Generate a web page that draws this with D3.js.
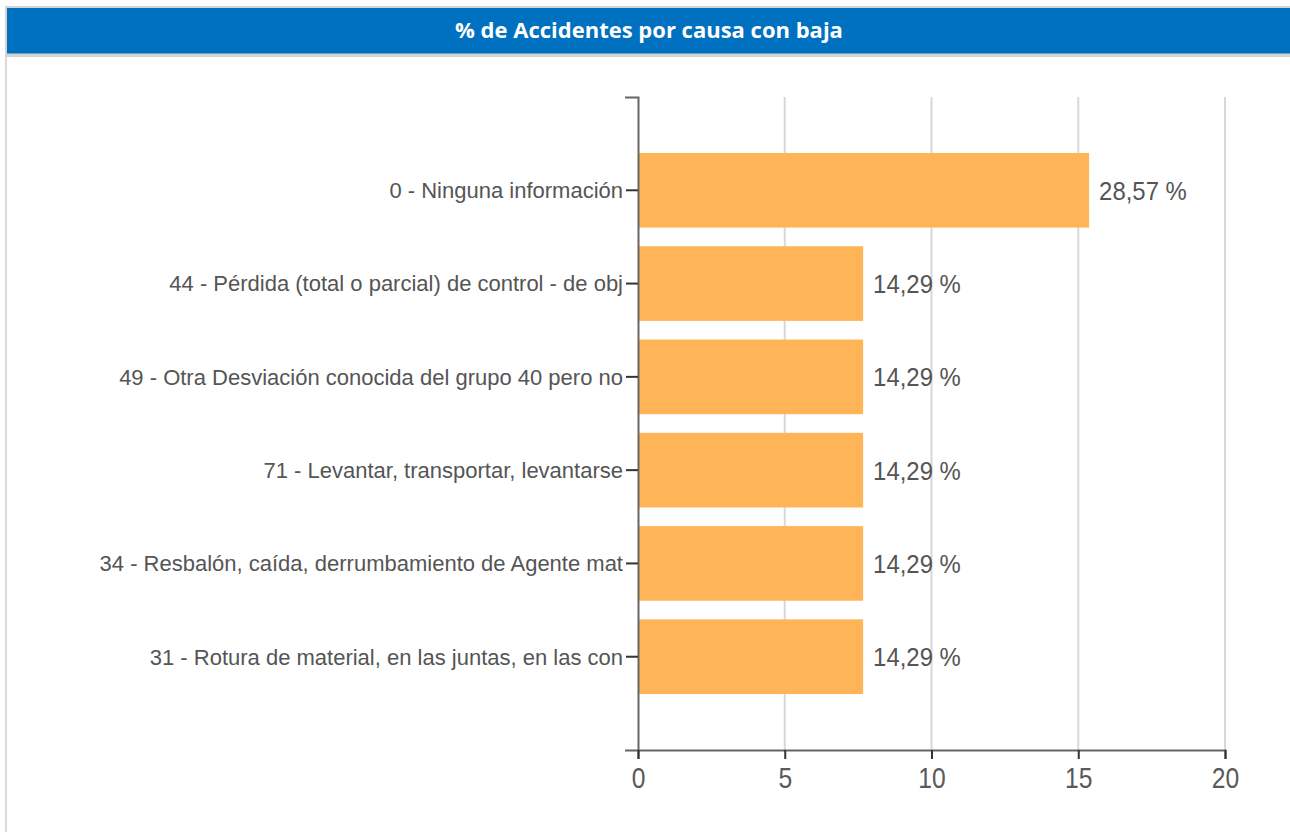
<!DOCTYPE html>
<html>
<head>
<meta charset="utf-8">
<script src="https://cdn.jsdelivr.net/npm/d3@7"></script>
<style>
  body { margin: 0; background: #fff; }
  svg { display: block; }
</style>
</head>
<body>
<div id="chart"></div>
<script>
const title = '% de Accidentes por causa con baja';
const categories = [
  '0 - Ninguna información',
  '44 - Pérdida (total o parcial) de control - de obj',
  '49 - Otra Desviación conocida del grupo 40 pero no',
  '71 - Levantar, transportar, levantarse',
  '34 - Resbalón, caída, derrumbamiento de Agente mat',
  '31 - Rotura de material, en las juntas, en las con'
];
const values = [15.37, 7.67, 7.67, 7.67, 7.67, 7.67];
const valueLabels = ['28,57 %', '14,29 %', '14,29 %', '14,29 %', '14,29 %', '14,29 %'];
const xTicks = [0, 5, 10, 15, 20];

const draw = () => {
  const W = 1290, H = 832;
  const plot = {left: 638, right: 1225, top: 97, bottom: 750};

  const svg = d3.select('#chart')
    .append('svg')
    .attr('width', W)
    .attr('height', H);

  // panel frame and title bar
  svg.append('rect')
    .attr('x', 5).attr('y', 6).attr('width', 2).attr('height', H)
    .attr('fill', '#d9d9d9');
  svg.append('rect')
    .attr('x', 5).attr('y', 6).attr('width', W).attr('height', 51)
    .attr('fill', '#d4d4d4');
  svg.append('rect')
    .attr('x', 7).attr('y', 8).attr('width', W).attr('height', 45.5)
    .attr('fill', '#0070c0');
  svg.append('text')
    .attr('x', 649).attr('y', 38)
    .attr('text-anchor', 'middle')
    .attr('fill', '#fff')
    .style('font-family', '"Open Sans", sans-serif')
    .style('font-weight', 700)
    .style('font-size', '22px')
    .text(title);

  const x = d3.scaleLinear()
    .domain([0, 20])
    .range([plot.left, plot.right]);
  const y = d3.scaleBand()
    .domain(categories)
    .range([plot.top, plot.bottom])
    .paddingInner(0.2)
    .paddingOuter(0.6);

  // vertical grid
  svg.append('g')
    .selectAll('line')
    .data(xTicks.filter(d => d > 0))
    .join('line')
    .attr('x1', d => x(d)).attr('x2', d => x(d))
    .attr('y1', plot.top).attr('y2', plot.bottom)
    .attr('stroke', '#d8d8d8')
    .attr('stroke-width', 2);

  // bars
  svg.selectAll('.bar')
    .data(values)
    .join('rect')
    .attr('class', 'bar')
    .attr('x', x(0))
    .attr('y', (d, i) => y(categories[i]))
    .attr('width', d => x(d) - x(0))
    .attr('height', y.bandwidth())
    .attr('fill', '#ffb457');

  // value labels
  svg.selectAll('.label')
    .data(values)
    .join('text')
    .attr('class', 'label')
    .attr('transform', (d, i) => `translate(${x(d) + 10}, ${y(categories[i]) + y.bandwidth() / 2}) scale(0.92, 1)`)
    .attr('dy', '0.36em')
    .attr('fill', '#555')
    .style('font-family', '"Liberation Sans", Arial, sans-serif')
    .style('font-size', '26px')
    .text((d, i) => valueLabels[i]);

  // y axis
  const gy = svg.append('g')
    .attr('transform', `translate(${plot.left}, 0)`)
    .call(d3.axisLeft(y).tickSizeInner(12).tickSizeOuter(13).tickPadding(3));
  gy.select('.domain').attr('stroke', '#666').attr('stroke-width', 2);
  gy.selectAll('.tick line').attr('stroke', '#333').attr('stroke-width', 2);
  gy.selectAll('.tick text')
    .attr('dy', '0.36em')
    .attr('fill', '#555')
    .style('font-family', '"Liberation Sans", Arial, sans-serif')
    .style('font-size', '22px');

  // x axis
  const gx = svg.append('g')
    .attr('transform', `translate(0, ${plot.bottom})`)
    .call(d3.axisBottom(x).tickValues(xTicks).tickSizeInner(9).tickSizeOuter(9));
  gx.select('.domain').attr('stroke', '#666').attr('stroke-width', 2);
  gx.selectAll('.tick line').attr('stroke', '#333').attr('stroke-width', 2);
  gx.selectAll('.tick text')
    .attr('y', 17)
    .attr('transform', 'scale(0.85, 1)')
    .attr('fill', '#5a5a5a')
    .style('font-family', '"Liberation Sans", Arial, sans-serif')
    .style('font-size', '29px');
};

draw();
</script>
</body>
</html>
